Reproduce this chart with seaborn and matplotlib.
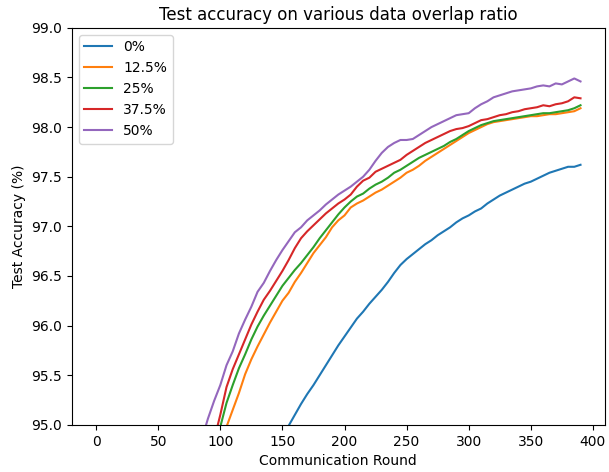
import numpy as np
import pandas as pd
import matplotlib
matplotlib.use("Agg")
import matplotlib.pyplot as plt
import seaborn as sns

# rounds sampled every 5 (values below 95 are clipped by the y-limits)
rounds = list(range(0, 391, 5))

acc_0 = [10, 25, 38, 48, 57, 64, 70, 74.5, 78, 81,
         83.5, 85.5, 87.2, 88.6, 89.7, 90.6, 91.3, 91.9, 92.4, 92.85,
         93.2, 93.5, 93.75, 93.95, 94.1, 94.25, 94.4, 94.55, 94.68, 94.8,
         94.9, 94.99, 95.10, 95.21, 95.31, 95.40, 95.50, 95.60, 95.70, 95.80,
         95.89, 95.98, 96.07, 96.14, 96.22, 96.29, 96.36, 96.44, 96.53, 96.61,
         96.67, 96.72, 96.77, 96.82, 96.86, 96.91, 96.95, 96.99, 97.04, 97.08,
         97.11, 97.15, 97.18, 97.23, 97.27, 97.31, 97.34, 97.37, 97.40, 97.43,
         97.45, 97.48, 97.51, 97.54, 97.56, 97.58, 97.60, 97.60, 97.62]
acc_12 = [20, 42, 58, 69, 77, 82, 85.3, 87.5, 89.0, 90.1,
          90.9, 91.6, 92.1, 92.55, 92.95, 93.3, 93.6, 93.9, 94.15, 94.4,
          94.7, 94.98, 95.15, 95.32, 95.51, 95.66, 95.79, 95.91, 96.03, 96.14,
          96.25, 96.33, 96.44, 96.53, 96.63, 96.73, 96.81, 96.89, 96.99, 97.06,
          97.11, 97.19, 97.23, 97.26, 97.30, 97.34, 97.37, 97.41, 97.45, 97.49,
          97.54, 97.57, 97.61, 97.66, 97.70, 97.74, 97.78, 97.82, 97.86, 97.90,
          97.94, 97.97, 98.00, 98.03, 98.05, 98.06, 98.07, 98.08, 98.09, 98.10,
          98.11, 98.11, 98.12, 98.13, 98.13, 98.14, 98.15, 98.16, 98.19]
acc_25 = [20, 45, 62, 72, 79, 83.5, 86.3, 88.2, 89.6, 90.6,
          91.4, 92.0, 92.5, 92.9, 93.25, 93.55, 93.85, 94.1, 94.35, 94.62,
          94.98, 95.22, 95.40, 95.57, 95.71, 95.86, 95.99, 96.10, 96.20, 96.30,
          96.40, 96.48, 96.56, 96.63, 96.71, 96.79, 96.88, 96.96, 97.04, 97.12,
          97.19, 97.25, 97.30, 97.33, 97.38, 97.42, 97.45, 97.49, 97.54, 97.57,
          97.61, 97.65, 97.69, 97.72, 97.75, 97.78, 97.81, 97.85, 97.88, 97.92,
          97.96, 97.99, 98.02, 98.04, 98.06, 98.07, 98.08, 98.09, 98.10, 98.11,
          98.12, 98.13, 98.14, 98.14, 98.15, 98.16, 98.17, 98.19, 98.22]
acc_37 = [25, 50, 66, 75, 81, 84.5, 87, 88.7, 90, 91,
          91.8, 92.4, 92.9, 93.3, 93.65, 93.95, 94.2, 94.45, 94.65, 94.85,
          95.10, 95.38, 95.56, 95.71, 95.86, 96.01, 96.14, 96.26, 96.35, 96.45,
          96.55, 96.66, 96.78, 96.88, 96.95, 97.01, 97.07, 97.13, 97.18, 97.23,
          97.27, 97.32, 97.40, 97.46, 97.49, 97.55, 97.58, 97.61, 97.64, 97.67,
          97.72, 97.76, 97.80, 97.84, 97.87, 97.90, 97.93, 97.96, 97.98, 97.99,
          98.01, 98.04, 98.07, 98.08, 98.10, 98.12, 98.13, 98.15, 98.16, 98.18,
          98.19, 98.20, 98.22, 98.21, 98.23, 98.24, 98.26, 98.30, 98.29]
acc_50 = [30, 55, 70, 78, 83, 86, 88, 89.5, 90.7, 91.6,
          92.3, 92.9, 93.4, 93.8, 94.1, 94.35, 94.6, 94.85, 95.06, 95.24,
          95.40, 95.60, 95.74, 95.92, 96.06, 96.19, 96.34, 96.43, 96.55, 96.66,
          96.76, 96.85, 96.94, 96.99, 97.06, 97.11, 97.16, 97.22, 97.27, 97.32,
          97.36, 97.40, 97.45, 97.50, 97.57, 97.66, 97.74, 97.80, 97.84, 97.87,
          97.87, 97.88, 97.92, 97.96, 98.00, 98.03, 98.06, 98.09, 98.12, 98.13,
          98.14, 98.19, 98.23, 98.26, 98.30, 98.32, 98.34, 98.36, 98.37, 98.38,
          98.39, 98.41, 98.42, 98.41, 98.44, 98.43, 98.46, 98.49, 98.46]

labels = ["0%", "12.5%", "25%", "37.5%", "50%"]
series = [acc_0, acc_12, acc_25, acc_37, acc_50]

frames = []
for lab, vals in zip(labels, series):
    frames.append(pd.DataFrame({"round": rounds, "acc": vals, "overlap": lab}))
df = pd.concat(frames, ignore_index=True)

fig, ax = plt.subplots(figsize=(6.09, 4.72), dpi=100)
sns.lineplot(data=df, x="round", y="acc", hue="overlap", hue_order=labels,
             palette=sns.color_palette("tab10", 5), ax=ax)

ax.set_ylim(95, 99)
ax.set_title("Test accuracy on various data overlap ratio")
ax.set_xlabel("Communication Round")
ax.set_ylabel("Test Accuracy (%)")
ax.legend(loc="upper left")

plt.subplots_adjust(left=0.118, right=0.993, top=0.941, bottom=0.1)
plt.savefig("out.png")
